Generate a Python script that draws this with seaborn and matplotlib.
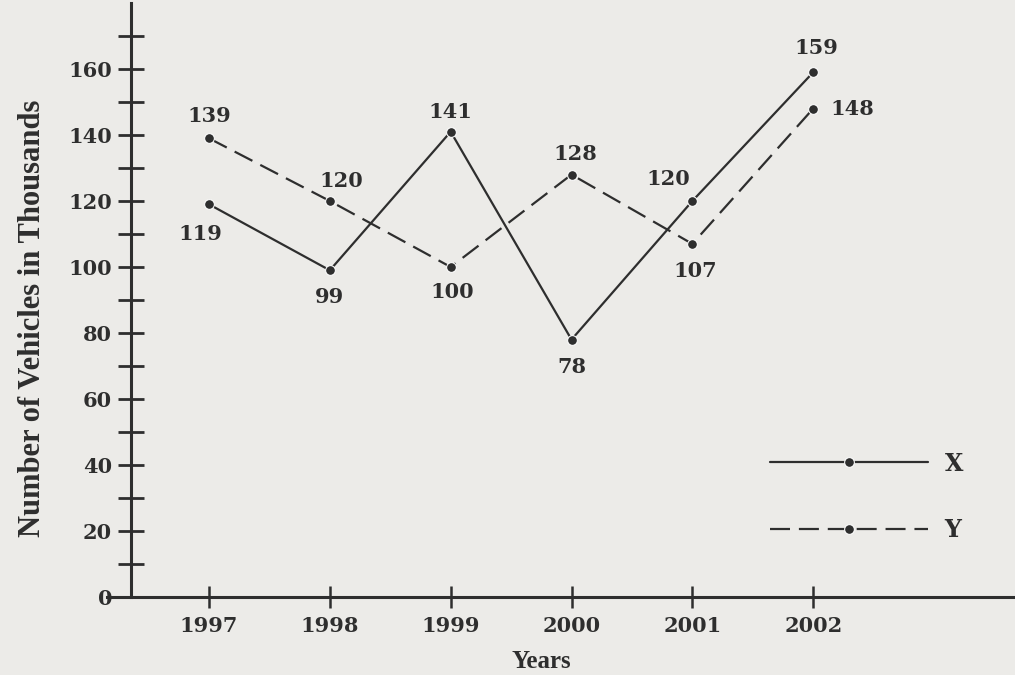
import matplotlib
matplotlib.use("Agg")
import matplotlib.pyplot as plt
import seaborn as sns
import pandas as pd

# data
years = [1997, 1998, 1999, 2000, 2001, 2002]
series_x = [119, 99, 141, 78, 120, 159]
series_y = [139, 120, 100, 128, 107, 148]
y_ticks = [0, 20, 40, 60, 80, 100, 120, 140, 160]

# label offsets in pixels (dx, dy) for each point label
offsets_x = [(-9, -30), (0, -27), (0, 20), (0, -27), (-24, 22), (3, 24)]
offsets_y = [(0, 22), (11, 20), (2, -25), (4, 21), (3, -27), (17, 0)]

ink = "#2e2e2e"
paper = "#ecebe8"

sns.set_style("white")
plt.rcParams["font.family"] = ["DejaVu Serif"]

df = pd.DataFrame({"year": years * 2,
                   "value": series_x + series_y,
                   "series": ["X"] * len(years) + ["Y"] * len(years)})

fig = plt.figure(figsize=(10.15, 6.75), dpi=100, facecolor=paper)
ax = fig.add_axes([107 / 1015, 78 / 675, 908 / 1015, 594 / 675])
ax.set_facecolor(paper)

sns.lineplot(data=df[df.series == "X"], x="year", y="value", ax=ax,
             color=ink, lw=1.6, marker="o", markersize=7, label="X")
sns.lineplot(data=df[df.series == "Y"], x="year", y="value", ax=ax,
             color=ink, lw=1.6, marker="o", markersize=7, label="Y",
             dashes=False, linestyle=(0, (9, 4)))

ax.set_xlim(1996.156, 2003.67)
ax.set_ylim(0, 180)

for s in ["top", "right"]:
    ax.spines[s].set_visible(False)
ax.spines["left"].set_position(("data", 1996.354))
ax.spines["left"].set_bounds(0, 180)
for s in ["left", "bottom"]:
    ax.spines[s].set_linewidth(2.2)
    ax.spines[s].set_color(ink)

ax.set_yticks(y_ticks)
ax.set_yticks([v + 10 for v in y_ticks], minor=True)
ax.set_xticks(years)
ax.tick_params(axis="y", which="both", left=True, direction="inout", length=19,
               width=2, color=ink, pad=4, labelsize=15, labelcolor=ink)
ax.tick_params(axis="x", bottom=True, direction="inout", length=16, width=1.8,
               color=ink, pad=6, labelsize=15, labelcolor=ink)
for lab in ax.get_xticklabels() + ax.get_yticklabels():
    lab.set_fontweight("bold")

ax.set_ylabel("Number of Vehicles in Thousands", family="Liberation Serif",
              fontweight="bold", fontsize=22, color=ink)
ax.yaxis.set_label_coords(-0.066, 0.47)
ax.set_xlabel("Years", family="Liberation Serif", fontweight="bold",
              fontsize=18, color=ink)
ax.xaxis.set_label_coords(0.478, -0.089)

for yr, v, (dx, dy) in zip(years, series_x, offsets_x):
    ax.annotate(str(v), (yr, v), xytext=(dx, dy), textcoords="offset pixels",
                ha="center", va="center", fontsize=15, fontweight="bold", color=ink)
for i, (yr, v, (dx, dy)) in enumerate(zip(years, series_y, offsets_y)):
    ha = "left" if i == len(years) - 1 else "center"
    ax.annotate(str(v), (yr, v), xytext=(dx, dy), textcoords="offset pixels",
                ha=ha, va="center", fontsize=15, fontweight="bold", color=ink)

leg = ax.legend(loc="center left", bbox_to_anchor=(758 / 1015, 1 - 497 / 675),
                bbox_transform=fig.transFigure, frameon=False, borderpad=0,
                handlelength=6.7, handletextpad=0.7, labelspacing=1.8,
                prop={"family": "DejaVu Serif", "weight": "bold", "size": 17})
for t in leg.get_texts():
    t.set_color(ink)

fig.savefig("out.png", dpi=100, facecolor=paper)
